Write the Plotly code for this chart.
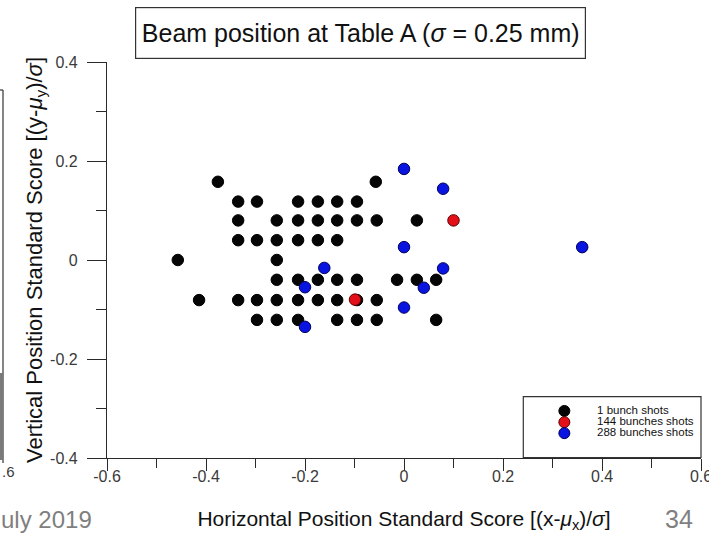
import plotly.graph_objects as go

# ---- data: standard scores of the beam position ----
one_bunch_x = [-0.376, -0.057,
               -0.335, -0.297, -0.214, -0.174, -0.135, -0.095,
               -0.335, -0.257, -0.214, -0.174, -0.135, -0.095, -0.055, 0.026,
               -0.335, -0.297, -0.257, -0.214, -0.174, -0.135,
               -0.457, -0.257,
               -0.257, -0.214, -0.174, -0.135, -0.095, -0.014, 0.026, 0.065,
               -0.414, -0.335, -0.297, -0.257, -0.214, -0.174, -0.135, -0.095, -0.055,
               -0.297, -0.257, -0.214, -0.135, -0.095, -0.055, 0.065]
one_bunch_y = [0.158, 0.158,
               0.118, 0.118, 0.118, 0.118, 0.118, 0.118,
               0.080, 0.080, 0.080, 0.080, 0.080, 0.080, 0.080, 0.080,
               0.040, 0.040, 0.040, 0.040, 0.040, 0.040,
               0.0, 0.0,
               -0.040, -0.040, -0.040, -0.040, -0.040, -0.040, -0.040, -0.040,
               -0.081, -0.081, -0.081, -0.081, -0.081, -0.081, -0.081, -0.081, -0.081,
               -0.121, -0.121, -0.121, -0.121, -0.121, -0.121, -0.121]

bunch144_x = [0.100, -0.099]
bunch144_y = [0.080, -0.080]

bunch288_x = [0.0, 0.079, 0.0, 0.360, -0.161, 0.079, -0.200, 0.040, 0.0, -0.200]
bunch288_y = [0.184, 0.144, 0.026, 0.026, -0.016, -0.017, -0.055, -0.056, -0.096, -0.135]

series_names = ["1 bunch shots", "144 bunches shots", "288 bunches shots"]
series_fill = ["#050505", "#e3101a", "#0a14e0"]
series_edge = ["#000000", "#5a0000", "#00005a"]

x_ticks = [-0.6, -0.4, -0.2, 0, 0.2, 0.4, 0.6]
x_tick_text = ["-0.6", "-0.4", "-0.2", "0", "0.2", "0.4", "0.6"]
y_ticks = [-0.4, -0.2, 0, 0.2, 0.4]
y_tick_text = ["-0.4", "-0.2", "0", "0.2", "0.4"]

FONT = "Liberation Sans, Arial, sans-serif"
NARROW = "Liberation Sans Narrow, Arial Narrow, Liberation Sans, sans-serif"
AXIS_COL = "#2a2a2a"
TICK_FONT_COL = "#3a3a3a"

W, H = 709, 533
ML, MR, MT, MB = 107, 8, 62, 75
PW, PH = W - ML - MR, H - MT - MB


def px_x(p):
    """pixel column -> paper x"""
    return (p - ML) / PW


def px_y(q):
    """pixel row -> paper y"""
    return (H - MB - q) / PH


fig = go.Figure()

xs = [one_bunch_x, bunch144_x, bunch288_x]
ys = [one_bunch_y, bunch144_y, bunch288_y]
for i in range(3):
    fig.add_trace(go.Scatter(
        x=xs[i], y=ys[i], mode="markers", name=series_names[i],
        marker=dict(size=11.5, color=series_fill[i],
                    line=dict(width=1, color=series_edge[i])),
        showlegend=False, cliponaxis=False,
    ))

# legend drawn in a small inset axis inside the framed box
leg_y = [0.76, 0.57, 0.385]
for i in range(3):
    fig.add_trace(go.Scatter(
        x=[0.231], y=[leg_y[i]], mode="markers", xaxis="x2", yaxis="y2",
        marker=dict(size=11, color=series_fill[i],
                    line=dict(width=1, color=series_edge[i])),
        showlegend=False, hoverinfo="skip",
    ))
fig.add_trace(go.Scatter(
    x=[0.415] * 3, y=leg_y, mode="text", xaxis="x2", yaxis="y2",
    text=series_names, textposition="middle right",
    textfont=dict(family=FONT, size=11.5, color="#111111"),
    showlegend=False, hoverinfo="skip",
))

common_axis = dict(
    showline=True, linecolor=AXIS_COL, linewidth=1.3,
    showgrid=False, zeroline=False, mirror=False, automargin=False,
    ticks="outside", tickcolor=AXIS_COL, tickwidth=1.3,
    ticklabeloverflow="allow",
    tickfont=dict(family=FONT, size=16, color=TICK_FONT_COL),
)

fig.update_layout(
    width=W, height=H,
    margin=dict(l=ML, r=MR, t=MT, b=MB, pad=0),
    paper_bgcolor="white", plot_bgcolor="white",
    showlegend=False,
    xaxis=dict(
        range=[-0.6, 0.6], tickmode="array", tickvals=x_ticks, ticktext=x_tick_text,
        ticklen=12, ticklabelstandoff=-8,
        minor=dict(dtick=0.1, tick0=0, ticks="outside", ticklen=9,
                   tickcolor=AXIS_COL, tickwidth=1.3),
        title=dict(text="Horizontal Position Standard Score [(x-<i>μ</i><sub>x</sub>)/<i>σ</i>]",
                   font=dict(family=FONT, size=21, color="#111111"), standoff=26),
        **common_axis,
    ),
    yaxis=dict(
        range=[-0.4, 0.4], tickmode="array", tickvals=y_ticks, ticktext=y_tick_text,
        ticklen=19, ticklabelstandoff=6,
        minor=dict(dtick=0.1, tick0=0, ticks="outside", ticklen=10,
                   tickcolor=AXIS_COL, tickwidth=1.3),
        title=dict(text="Vertical Position Standard Score [(y-<i>μ</i><sub>y</sub>)/<i>σ</i>]",
                   font=dict(family=FONT, size=22, color="#111111"), standoff=1),
        **common_axis,
    ),
    xaxis2=dict(domain=[px_x(523.3), 1.0], anchor="y2", range=[0, 1],
                visible=False, fixedrange=True),
    yaxis2=dict(domain=[px_y(456), px_y(396.7)], anchor="x2", range=[0, 1],
                visible=False, fixedrange=True),
)

shapes = [
    # legend frame
    dict(type="rect", xref="paper", yref="paper",
         x0=px_x(523.3), x1=px_x(701), y0=px_y(457.5), y1=px_y(396.7),
         line=dict(color="#333333", width=1.2), fillcolor="rgba(0,0,0,0)"),
    # edge of the neighbouring slide element at the far left
    dict(type="line", xref="paper", yref="paper",
         x0=px_x(-2), x1=px_x(3), y0=px_y(90), y1=px_y(90),
         line=dict(color="#333333", width=1.2)),
    dict(type="line", xref="paper", yref="paper",
         x0=px_x(3), x1=px_x(3), y0=px_y(90), y1=px_y(463),
         line=dict(color="#333333", width=1.2)),
    dict(type="rect", xref="paper", yref="paper",
         x0=px_x(-2), x1=px_x(3), y0=px_y(460), y1=px_y(373),
         line=dict(width=0), fillcolor="#7a7a7a"),
]
fig.update_layout(shapes=shapes)

annotations = [
    dict(text="Beam position at Table A (<i>σ</i> = 0.25 mm)",
         xref="paper", yref="paper", x=px_x(360), y=px_y(32.7),
         xanchor="center", yanchor="middle", showarrow=False,
         width=449, height=50, borderpad=0, bordercolor="#333333", borderwidth=1.2,
         bgcolor="white", font=dict(family=FONT, size=25, color="#111111")),
    dict(text=".6", xref="paper", yref="paper", x=px_x(0), y=px_y(471),
         xanchor="left", yanchor="middle", showarrow=False,
         font=dict(family=FONT, size=15, color=TICK_FONT_COL)),
    dict(text="uly 2019", xref="paper", yref="paper", x=px_x(-1), y=px_y(519),
         xanchor="left", yanchor="middle", showarrow=False,
         font=dict(family=NARROW, size=24, color="#7f7f7f")),
    dict(text="34", xref="paper", yref="paper", x=px_x(679), y=px_y(519),
         xanchor="center", yanchor="middle", showarrow=False,
         font=dict(family=NARROW, size=25, color="#7f7f7f")),
]
fig.update_layout(annotations=annotations)

fig.write_html("out.html")
